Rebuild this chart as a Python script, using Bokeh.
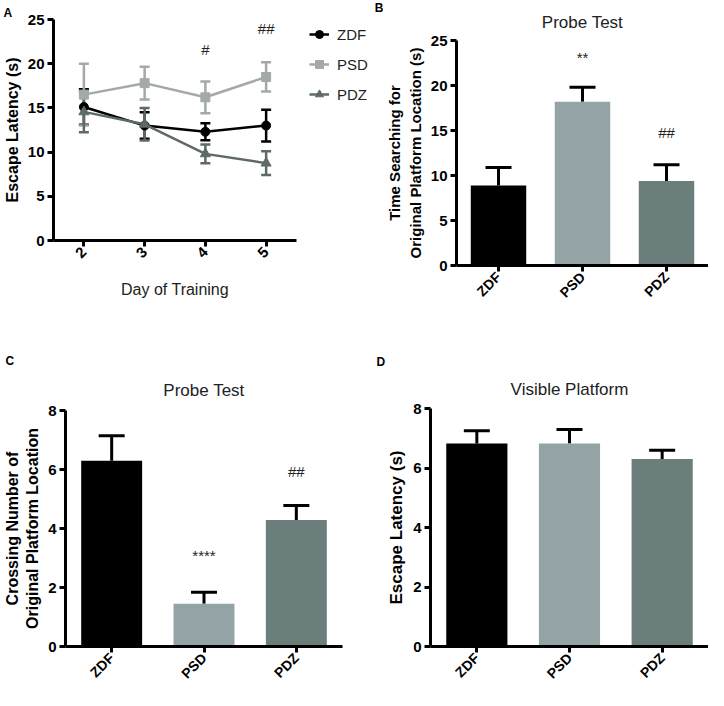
import math
from bokeh.plotting import figure
from bokeh.models import (ColumnDataSource, Whisker, TeeHead, Legend, LegendItem, Title,
                          FixedTicker, Range1d, FactorRange)
from bokeh.core.properties import value
from bokeh.layouts import column, row
from bokeh.embed import file_html
from bokeh.resources import INLINE

# ---------------- data ----------------
days = [2, 3, 4, 5]
zdf_mean = [15.1, 13.0, 12.3, 13.0]
zdf_sem = [2.0, 1.5, 0.95, 1.8]
psd_mean = [16.5, 17.8, 16.2, 18.5]
psd_sem = [3.5, 1.85, 1.8, 1.65]
pdz_mean = [14.55, 13.15, 9.8, 8.75]
pdz_sem = [2.3, 1.85, 1.05, 1.35]

groups = ["ZDF", "PSD", "PDZ"]
probe_time = [8.9, 18.2, 9.4]
probe_time_err = [2.0, 1.6, 1.8]
crossing = [6.3, 1.45, 4.29]
crossing_err = [0.84, 0.39, 0.49]
visible = [6.82, 6.82, 6.30]
visible_err = [0.43, 0.47, 0.30]

a_marks_x = [4, 5]
a_marks_y = [20.7, 23.0]
a_marks_t = ["#", "##"]
b_marks_x = ["PSD", "PDZ"]
b_marks_y = [22.2, 13.8]
b_marks_t = ["**", "##"]
c_marks_x = ["PSD", "PDZ"]
c_marks_y = [2.8, 5.66]
c_marks_t = ["****", "##"]

bar_colors = ["#000000", "#94a3a6", "#6b7e7b"]
line_colors = ["#000000", "#a3a9a9", "#5e6a68"]
markers = ["circle", "square", "triangle"]

FONT = "Liberation Sans"


def style(p):
    for ax in p.axis:
        ax.axis_line_width = 3
        ax.major_tick_line_width = 3
        ax.major_tick_out = 6
        ax.major_tick_in = 0
        ax.minor_tick_line_color = None
        ax.major_label_text_font = FONT
        ax.major_label_text_font_style = "bold"
        ax.major_label_text_font_size = "15px"
        ax.major_label_text_color = "#000000"
        ax.axis_label_text_font = FONT
        ax.axis_label_text_font_style = "bold"
        ax.axis_label_text_color = "#000000"
        ax.major_label_standoff = 3
    p.grid.visible = False
    p.outline_line_color = None


def main_title(p, txt, standoff):
    p.add_layout(Title(text=txt, align="center", text_font=FONT, text_font_size="17px",
                       text_font_style="normal", text_color="#222222",
                       standoff=standoff), "above")


def letter_title(p, txt, offset):
    p.add_layout(Title(text=txt, align="left", offset=offset, text_font=FONT,
                       text_font_size="12px", text_font_style="bold", text_color="#000000",
                       standoff=0), "above")


series = [("ZDF", zdf_mean, zdf_sem), ("PSD", psd_mean, psd_sem), ("PDZ", pdz_mean, pdz_sem)]
sources = [ColumnDataSource(dict(x=days, y=m, up=[a + b for a, b in zip(m, e)],
                                 lo=[a - b for a, b in zip(m, e)])) for _, m, e in series]

# ---------------- Panel A ----------------
pA = figure(width=300, height=322, min_border_left=46, min_border_right=4,
            min_border_top=19, min_border_bottom=82,
            x_range=Range1d(1.5, 5.5), y_range=Range1d(0, 25),
            output_backend="svg", toolbar_location=None)
style(pA)
pA.xaxis.ticker = FixedTicker(ticks=days)
pA.yaxis.ticker = FixedTicker(ticks=[0, 5, 10, 15, 20, 25])
pA.xaxis.major_label_orientation = math.pi / 4
pA.xaxis.axis_label = "Day of Training"
pA.xaxis.axis_label_text_font_style = "normal"
pA.xaxis.axis_label_text_font_size = "16px"
pA.xaxis.axis_label_text_color = "#222222"
pA.xaxis.axis_label_standoff = 16
pA.yaxis.axis_label = "Escape Latency (s)"
pA.yaxis.axis_label_text_font_size = "16px"
pA.yaxis.axis_label_standoff = 4

for src, col, mk in zip(sources, line_colors, markers):
    pA.add_layout(Whisker(base="x", upper="up", lower="lo", source=src, line_color=col,
                          line_width=2.5,
                          upper_head=TeeHead(size=10, line_color=col, line_width=2.5),
                          lower_head=TeeHead(size=10, line_color=col, line_width=2.5)))
    pA.line("x", "y", source=src, line_color=col, line_width=2.5)
    pA.scatter("x", "y", source=src, marker=mk, size=9 if mk != "triangle" else 10,
               fill_color=col, line_color=col)

pA.text(x=a_marks_x, y=a_marks_y, text=a_marks_t, text_align="center", text_baseline="bottom",
        text_font_size="15px", text_color="#222222")
letter_title(pA, "A", -50)

# ---------------- legend strip (holds the legend of A and the letter B) ----------------
pL = figure(width=83, height=322, min_border=0, x_range=Range1d(0, 1), y_range=Range1d(0, 1),
            output_backend="svg", toolbar_location=None)
pL.axis.visible = False
pL.grid.visible = False
pL.outline_line_color = None
items = []
for (name, _, _), src, col, mk in zip(series, sources, line_colors, markers):
    # same series data; it lies outside this strip's ranges, so only the legend shows
    lr = pL.line("x", "y", source=src, line_color=col, line_width=2.5)
    sr = pL.scatter("x", "y", source=src, marker=mk, size=9 if mk != "triangle" else 10,
                    fill_color=col, line_color=col)
    items.append(LegendItem(label=name, renderers=[lr, sr]))
leg = Legend(items=items, location=(9, 218), border_line_color=None,
             background_fill_alpha=0, label_text_font=FONT, label_text_font_size="15px",
             label_text_color="#222222",
             glyph_width=20, glyph_height=20, label_height=20, label_standoff=8,
             spacing=10, padding=5, margin=0)
pL.add_layout(leg, "center")
pL.text(x=[1], y=[1], text=["B"], text_align="right", text_baseline="top",
        text_font=value(FONT), text_font_style="bold", text_font_size="12px",
        text_color="#000000")


# ---------------- bar panels ----------------
def bar_panel(vals, errs, top, ticks, ylabel, w, h, ml, mr, mt, mb, ylsize):
    p = figure(x_range=FactorRange(*groups), y_range=Range1d(0, top),
               width=w, height=h, min_border_left=ml, min_border_right=mr,
               min_border_top=mt, min_border_bottom=mb,
               output_backend="svg", toolbar_location=None)
    style(p)
    p.yaxis.ticker = FixedTicker(ticks=ticks)
    p.xaxis.major_label_orientation = math.pi / 4
    p.xaxis.major_label_text_font_size = "14px"
    p.yaxis.axis_label = ylabel
    p.yaxis.axis_label_text_font_size = ylsize
    p.yaxis.axis_label_standoff = 4
    src = ColumnDataSource(dict(g=groups, v=vals, up=[a + b for a, b in zip(vals, errs)],
                                c=bar_colors))
    p.vbar(x="g", top="v", width=0.66, fill_color="c", line_color=None, source=src)
    p.add_layout(Whisker(base="g", upper="up", lower="v", source=src, line_color="#000000",
                         line_width=3, upper_head=TeeHead(size=26, line_width=3),
                         lower_head=None))
    return p


pB = bar_panel(probe_time, probe_time_err, 25, [0, 5, 10, 15, 20, 25],
               "Time Searching for\nOriginal Platform Location (s)",
               325, 322, 66, 0, 40, 57, "15px")
pB.text(x=b_marks_x, y=b_marks_y, text=b_marks_t, text_align="center", text_baseline="bottom",
        text_font_size="15px", text_color="#222222")
main_title(pB, "Probe Test", 18)

pC = bar_panel(crossing, crossing_err, 8, [0, 2, 4, 6, 8],
               "Crossing Number of\nOriginal Platform Location",
               356, 368, 58, 14, 88, 37, "16px")
pC.text(x=c_marks_x, y=c_marks_y, text=c_marks_t, text_align="center", text_baseline="bottom",
        text_font_size="15px", text_color="#222222")
main_title(pC, "Probe Test", 22)
letter_title(pC, "C", -60)

pD = bar_panel(visible, visible_err, 8, [0, 2, 4, 6, 8], "Escape Latency (s)",
               352, 368, 74, 0, 86, 38, "17px")
main_title(pD, "Visible Platform", 19)
letter_title(pD, "D", -54)

layout = column(row(column(pA), column(pL), column(pB)), row(column(pC), column(pD)))
open("out.html", "w").write(file_html(layout, INLINE))
